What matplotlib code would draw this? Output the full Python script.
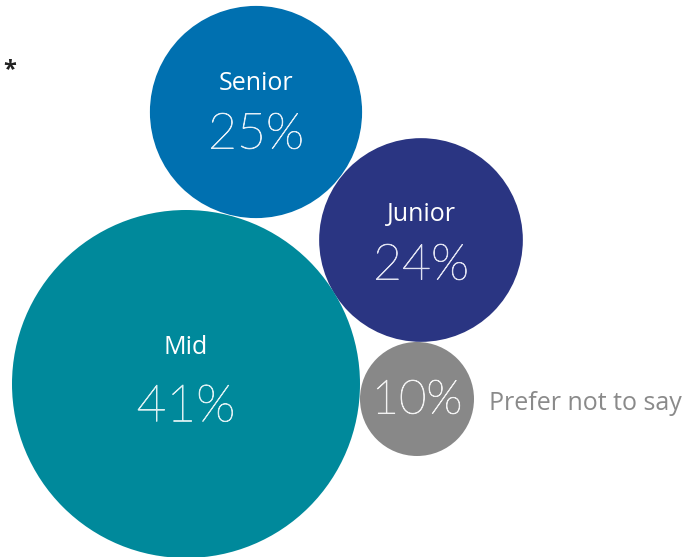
import matplotlib.pyplot as plt
import matplotlib.patheffects as pe
from matplotlib.patches import Circle

levels = ['Senior', 'Junior', 'Mid', 'Prefer not to say']
shares = [25, 24, 41, 10]
colors = ['#0070b0', '#2a3582', '#00899b', '#888888']
pct_colors = ['#e2eef7', '#dfe1f1', '#dcf0f2', '#f2f2f2']

# bubble centres in pixel units, y down
centres = [(256, 112), (421, 240), (186, 384), (417, 399)]
px_per_pct = 174 / 41
min_r = 57

# label / value offsets from the bubble centre
label_dy = [-28, -25, -37, None]
value_dy = [23, 26, 23, 2]
value_fs = [36, 36, 37, 34]

fig = plt.figure(figsize=(6.88, 5.57), dpi=100)
ax = fig.add_axes([0, 0, 1, 1])
ax.set_xlim(0, 688)
ax.set_ylim(557, 0)
ax.set_aspect('equal')
ax.axis('off')

font = 'Open Sans'
for i, (name, val) in enumerate(zip(levels, shares)):
    cx, cy = centres[i]
    r = max(val * px_per_pct, min_r)
    ax.add_patch(Circle((cx, cy), r, color=colors[i], lw=0))
    t = ax.text(cx, cy + value_dy[i], '%d%%' % val, ha='center', va='center',
                fontsize=value_fs[i], color=pct_colors[i], family='Lato',
                fontweight='light')
    t.set_path_effects([pe.withStroke(linewidth=0.6, foreground=pct_colors[i])])
    if label_dy[i] is None:
        ax.text(489, cy + 4, name, ha='left', va='center', fontsize=18,
                color='#8a8a8a', family=font)
    else:
        ax.text(cx, cy + label_dy[i], name, ha='center', va='center',
                fontsize=18, color='white', family=font)

# tail of a heading cut off at the left edge
ax.text(3, 70, '*', ha='left', va='center', fontsize=17, color='#222222',
        family=font, fontweight='bold')

fig.savefig('out.png', dpi=100)
